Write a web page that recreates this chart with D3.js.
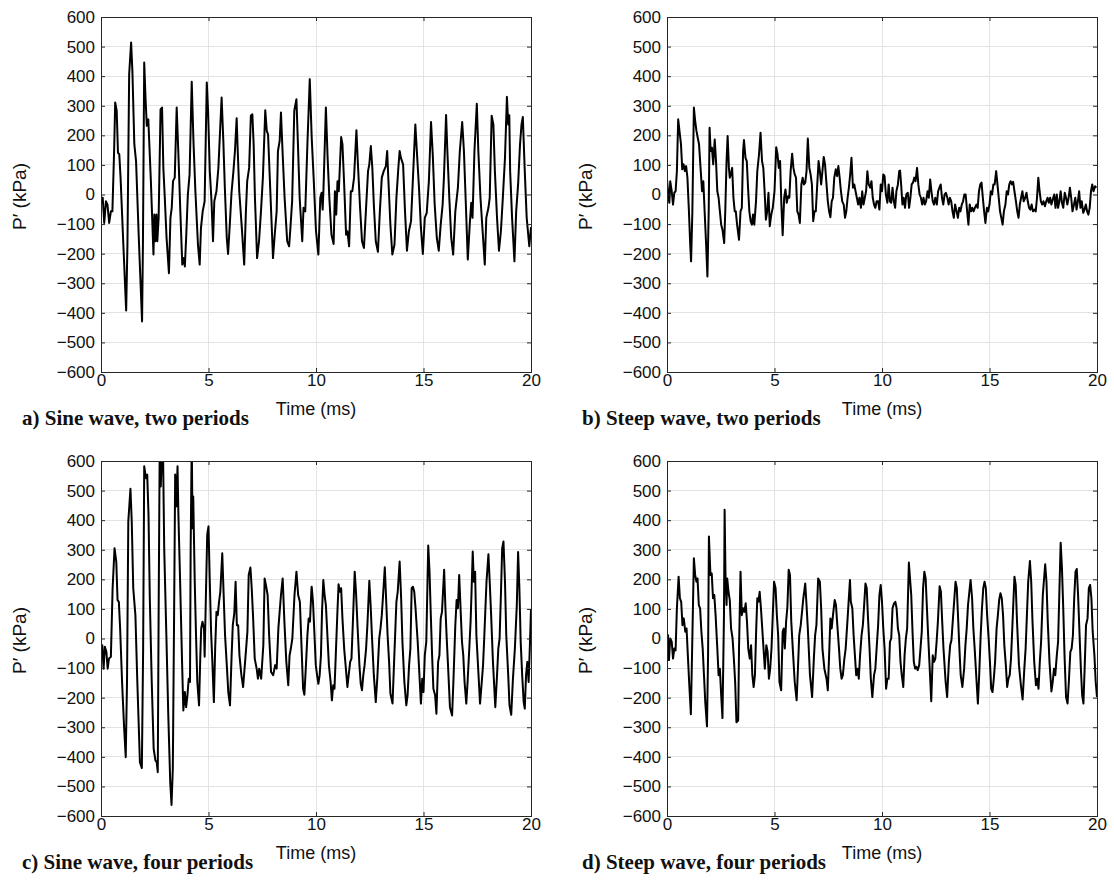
<!DOCTYPE html>
<html>
<head>
<meta charset="utf-8">
<script src="https://cdn.jsdelivr.net/npm/d3@7"></script>
<style>
  html, body { margin: 0; padding: 0; background: #fff; }
  svg { display: block; }
</style>
</head>
<body>
<svg id="chart" width="1114" height="884"></svg>
<script>
// Pressure fluctuation P' (kPa) against time (ms), four forcing cases.
// Each series is a list of [time in ms, pressure in kPa].

const sineTwoPeriods = [
  [0.00,-17],[0.08,-11],[0.15,-96],[0.23,-23],[0.30,-34],[0.38,-96],[0.46,-57],[0.53,-57],[0.61,147],[0.66,311],
  [0.73,283],[0.79,141],[0.85,136],[0.91,57],[1.04,-170],[1.17,-392],[1.23,-170],[1.31,407],[1.40,514],[1.46,418],
  [1.55,170],[1.63,113],[1.77,-170],[1.91,-429],[1.95,-170],[2.01,446],[2.07,328],[2.13,232],[2.20,254],[2.32,45],
  [2.44,-203],[2.48,-68],[2.53,-158],[2.58,-68],[2.62,-158],[2.68,-79],[2.77,288],[2.84,294],[2.90,90],[2.96,0],
  [3.05,-147],[3.16,-266],[3.23,-79],[3.29,-45],[3.35,45],[3.43,57],[3.52,294],[3.60,136],[3.69,-57],[3.78,-237],
  [3.84,-215],[3.90,-243],[3.96,-147],[4.04,0],[4.12,68],[4.22,381],[4.30,181],[4.39,11],[4.51,-170],[4.59,-237],
  [4.65,-113],[4.73,-57],[4.82,-23],[4.92,379],[4.98,283],[5.06,79],[5.14,-23],[5.21,-158],[5.27,-23],[5.37,11],
  [5.46,90],[5.61,328],[5.69,181],[5.76,23],[5.85,-147],[5.91,-201],[5.99,-102],[6.07,6],[6.16,79],[6.23,147],
  [6.31,258],[6.36,147],[6.43,11],[6.55,-113],[6.66,-237],[6.74,-57],[6.80,45],[6.89,90],[6.97,266],[7.04,271],
  [7.10,170],[7.16,-11],[7.26,-215],[7.35,-158],[7.44,-57],[7.53,57],[7.64,285],[7.71,215],[7.77,203],[7.85,57],
  [8.00,-215],[8.08,-136],[8.17,-57],[8.23,147],[8.31,181],[8.37,277],[8.45,136],[8.54,-11],[8.66,-158],[8.75,-175],
  [8.81,-113],[8.89,-23],[8.99,283],[9.09,322],[9.16,170],[9.24,-11],[9.36,-158],[9.42,-45],[9.50,-57],[9.60,170],
  [9.71,390],[9.80,192],[9.89,57],[10.00,-124],[10.11,-203],[10.20,-11],[10.26,6],[10.31,-51],[10.35,23],[10.46,294],
  [10.54,124],[10.62,-11],[10.72,-136],[10.82,-167],[10.88,11],[10.94,-68],[11.00,45],[11.06,11],[11.17,194],[11.23,170],
  [11.31,34],[11.40,-136],[11.46,-124],[11.54,-175],[11.62,11],[11.69,11],[11.77,57],[11.88,217],[11.95,102],[12.05,-45],
  [12.14,-158],[12.23,-181],[12.32,-57],[12.42,79],[12.48,102],[12.55,164],[12.62,90],[12.69,-34],[12.78,-158],[12.88,-194],
  [12.97,-57],[13.06,57],[13.15,79],[13.25,96],[13.31,147],[13.37,45],[13.46,-102],[13.55,-203],[13.65,-170],[13.74,-11],
  [13.83,90],[13.89,147],[13.95,124],[14.05,102],[14.14,-57],[14.23,-190],[14.32,-124],[14.42,-90],[14.51,57],[14.62,237],
  [14.69,147],[14.79,23],[14.88,-113],[14.97,-201],[15.06,-79],[15.15,-62],[15.25,45],[15.35,245],[15.43,136],[15.52,-34],
  [15.62,-147],[15.71,-190],[15.80,-102],[15.89,-34],[15.95,57],[16.05,269],[16.11,147],[16.20,-11],[16.29,-147],[16.38,-203],
  [16.48,-57],[16.60,23],[16.69,147],[16.80,245],[16.88,147],[16.97,-34],[17.06,-220],[17.15,-102],[17.22,-28],[17.28,-79],
  [17.37,147],[17.48,307],[17.55,147],[17.65,-11],[17.77,-147],[17.85,-237],[17.92,-79],[18.02,-45],[18.08,-11],[18.17,266],
  [18.25,237],[18.32,79],[18.42,-79],[18.51,-190],[18.60,-124],[18.69,-11],[18.79,124],[18.88,330],[18.94,237],[18.99,268],
  [19.03,79],[19.12,-79],[19.23,-226],[19.31,-57],[19.40,34],[19.49,170],[19.56,237],[19.62,262],[19.71,79],[19.80,-79],
  [19.92,-175],[20.00,-110]
];

const steepTwoPeriods = [
  [0.00,51],[0.06,0],[0.11,-28],[0.15,45],[0.22,11],[0.28,-34],[0.34,6],[0.40,11],[0.46,79],[0.52,254],
  [0.58,215],[0.65,170],[0.71,85],[0.77,102],[0.83,79],[0.89,96],[0.95,57],[1.02,-57],[1.08,-170],[1.12,-226],
  [1.18,-57],[1.25,294],[1.31,249],[1.37,215],[1.43,192],[1.49,170],[1.55,102],[1.63,11],[1.69,45],[1.75,-57],
  [1.82,-170],[1.88,-277],[1.94,-57],[1.98,226],[2.03,147],[2.09,158],[2.15,102],[2.22,186],[2.28,113],[2.34,11],
  [2.40,-11],[2.46,-57],[2.52,-102],[2.58,-119],[2.66,-164],[2.71,-57],[2.77,113],[2.82,198],[2.88,90],[2.92,57],
  [2.97,68],[3.03,90],[3.09,-11],[3.15,-57],[3.20,-57],[3.26,-102],[3.35,-153],[3.42,-57],[3.48,-45],[3.54,147],
  [3.58,184],[3.65,124],[3.71,113],[3.77,23],[3.83,-57],[3.89,-90],[3.95,-102],[4.00,-68],[4.06,-102],[4.14,-23],
  [4.20,79],[4.28,136],[4.35,209],[4.42,113],[4.48,90],[4.54,11],[4.60,-85],[4.66,-57],[4.72,6],[4.78,-107],
  [4.85,-68],[4.92,-45],[5.00,11],[5.08,160],[5.14,136],[5.20,90],[5.26,113],[5.32,-34],[5.38,-138],[5.45,-11],
  [5.51,17],[5.57,-28],[5.63,-6],[5.69,-11],[5.75,79],[5.82,138],[5.88,90],[5.94,68],[6.00,57],[6.06,-57],
  [6.12,-68],[6.18,-96],[6.25,34],[6.31,57],[6.37,34],[6.43,40],[6.49,79],[6.55,189],[6.62,90],[6.68,68],
  [6.74,34],[6.80,-90],[6.86,-57],[6.92,-57],[6.98,23],[7.05,113],[7.11,79],[7.17,34],[7.23,79],[7.29,127],
  [7.35,102],[7.42,34],[7.48,-23],[7.54,-57],[7.60,-77],[7.66,-23],[7.72,-11],[7.78,57],[7.85,85],[7.91,62],
  [7.97,96],[8.03,57],[8.09,11],[8.15,-23],[8.22,-34],[8.28,-79],[8.34,-57],[8.40,-11],[8.46,23],[8.52,68],
  [8.58,124],[8.65,23],[8.71,34],[8.77,11],[8.83,-11],[8.89,-34],[8.95,-11],[9.02,-45],[9.08,11],[9.14,-34],
  [9.20,-11],[9.26,11],[9.32,79],[9.38,34],[9.45,23],[9.51,45],[9.57,-11],[9.63,-34],[9.69,-45],[9.75,-23],
  [9.82,-23],[9.88,-51],[9.94,34],[10.00,11],[10.06,68],[10.12,62],[10.18,0],[10.25,-28],[10.31,34],[10.37,-23],
  [10.43,-28],[10.49,23],[10.55,-23],[10.61,-45],[10.67,11],[10.74,34],[10.80,79],[10.84,81],[10.89,34],[10.95,-34],
  [11.01,-11],[11.07,-45],[11.13,0],[11.20,6],[11.26,-45],[11.32,-11],[11.38,34],[11.44,40],[11.50,57],[11.56,45],
  [11.63,90],[11.69,34],[11.75,0],[11.81,-11],[11.87,-34],[11.93,-11],[11.99,-34],[12.05,-23],[12.12,11],[12.18,-11],
  [12.24,51],[12.30,11],[12.36,-23],[12.42,-34],[12.48,-11],[12.55,-34],[12.61,11],[12.67,23],[12.73,34],[12.79,-11],
  [12.85,-34],[12.91,0],[12.97,6],[13.04,-11],[13.10,-34],[13.16,-11],[13.22,-23],[13.28,-57],[13.34,-79],[13.40,-34],
  [13.47,-57],[13.53,-79],[13.59,-45],[13.65,-57],[13.71,-34],[13.77,-23],[13.83,0],[13.89,0],[13.96,-57],[14.02,-102],
  [14.08,-34],[14.14,-57],[14.20,-45],[14.26,-57],[14.32,-45],[14.39,-34],[14.45,-45],[14.51,11],[14.57,34],[14.63,40],
  [14.69,-11],[14.75,-57],[14.81,-96],[14.88,-45],[14.94,-57],[15.00,-34],[15.06,11],[15.12,0],[15.18,34],[15.24,34],
  [15.31,79],[15.37,34],[15.43,-11],[15.49,-57],[15.55,-79],[15.61,-102],[15.67,-57],[15.74,-34],[15.80,11],[15.86,0],
  [15.92,34],[15.98,45],[16.04,34],[16.10,43],[16.16,11],[16.23,-23],[16.29,-57],[16.35,-79],[16.41,-34],[16.47,-11],
  [16.53,11],[16.59,-23],[16.66,-11],[16.72,6],[16.78,-23],[16.84,-45],[16.90,-51],[16.96,-34],[17.02,-57],[17.09,-51],
  [17.15,-57],[17.21,-11],[17.27,57],[17.33,11],[17.39,-23],[17.45,-34],[17.51,-23],[17.58,-40],[17.64,-23],[17.70,-11],
  [17.76,-28],[17.82,-11],[17.88,-34],[17.94,-17],[18.01,0],[18.07,-45],[18.13,0],[18.19,-45],[18.25,-23],[18.31,11],
  [18.37,-28],[18.43,-45],[18.50,6],[18.56,-11],[18.62,-34],[18.68,-11],[18.74,23],[18.80,-11],[18.86,-57],[18.93,-34],
  [18.99,-11],[19.05,-51],[19.11,-23],[19.17,11],[19.23,-45],[19.29,-23],[19.36,-62],[19.42,-51],[19.48,-34],[19.54,-57],
  [19.60,-68],[19.66,-45],[19.72,11],[19.78,34],[19.84,11],[19.91,28],[19.97,23]
];

const sineFourPeriods = [
  [0.00,-28],[0.06,-23],[0.12,-102],[0.18,-28],[0.25,-45],[0.31,-102],[0.37,-68],[0.46,-62],[0.54,170],[0.63,305],
  [0.71,260],[0.77,130],[0.83,124],[0.89,34],[0.98,-147],[1.07,-294],[1.15,-401],[1.21,-147],[1.27,396],[1.37,506],
  [1.43,396],[1.50,170],[1.60,79],[1.69,-147],[1.81,-418],[1.90,-438],[1.96,-34],[2.01,582],[2.09,542],[2.15,554],
  [2.21,418],[2.27,136],[2.36,-147],[2.45,-373],[2.53,-412],[2.59,-418],[2.64,-452],[2.68,79],[2.73,640],[2.78,514],
  [2.82,600],[2.88,660],[2.94,305],[3.04,11],[3.13,-260],[3.22,-486],[3.28,-563],[3.34,-441],[3.40,79],[3.45,554],
  [3.50,446],[3.56,582],[3.60,418],[3.68,192],[3.77,-79],[3.83,-243],[3.90,-181],[3.96,-232],[4.02,-192],[4.08,-136],
  [4.14,-147],[4.17,305],[4.22,660],[4.26,373],[4.29,480],[4.36,192],[4.42,11],[4.48,-147],[4.56,-226],[4.62,-57],
  [4.66,34],[4.72,57],[4.79,34],[4.82,-62],[4.88,147],[4.94,350],[5.00,379],[5.06,192],[5.12,23],[5.18,-79],
  [5.25,-215],[5.31,-34],[5.37,90],[5.43,79],[5.49,124],[5.55,158],[5.64,288],[5.71,136],[5.77,11],[5.86,-102],
  [5.92,-181],[6.00,-226],[6.07,-68],[6.13,45],[6.20,85],[6.26,192],[6.32,45],[6.38,45],[6.44,-57],[6.53,-124],
  [6.61,-164],[6.69,-90],[6.75,-34],[6.81,23],[6.87,215],[6.95,240],[7.01,170],[7.07,79],[7.15,-68],[7.24,-102],
  [7.30,-136],[7.36,-102],[7.45,-136],[7.55,-23],[7.61,203],[7.67,181],[7.75,147],[7.82,11],[7.91,-113],[8.01,-124],
  [8.10,-90],[8.17,-102],[8.25,34],[8.37,147],[8.45,203],[8.53,57],[8.62,-79],[8.71,-158],[8.77,-57],[8.83,-34],
  [8.90,0],[9.00,147],[9.09,226],[9.17,147],[9.25,124],[9.33,-34],[9.40,-170],[9.46,-190],[9.54,-79],[9.60,11],
  [9.66,68],[9.72,57],[9.79,170],[9.80,175],[9.86,124],[9.93,11],[9.99,-90],[10.05,-124],[10.11,-153],[10.17,-124],
  [10.23,-57],[10.28,90],[10.34,198],[10.40,147],[10.46,113],[10.53,11],[10.60,-90],[10.68,-147],[10.74,-209],[10.80,-158],
  [10.86,-170],[10.92,-57],[10.99,79],[11.05,183],[11.11,158],[11.17,170],[11.23,68],[11.31,-34],[11.39,-102],[11.46,-164],
  [11.52,-124],[11.59,-79],[11.65,-68],[11.71,45],[11.80,226],[11.86,158],[11.93,45],[12.02,-90],[12.08,-153],[12.14,-175],
  [12.20,-124],[12.26,-90],[12.33,-34],[12.39,45],[12.48,195],[12.54,113],[12.60,11],[12.69,-124],[12.78,-215],[12.85,-136],
  [12.94,0],[13.00,34],[13.06,79],[13.13,158],[13.20,241],[13.26,136],[13.33,11],[13.40,-79],[13.46,-186],[13.56,-220],
  [13.62,-102],[13.68,11],[13.74,124],[13.80,158],[13.89,260],[13.96,136],[14.02,-11],[14.11,-147],[14.20,-226],[14.26,-192],
  [14.33,-90],[14.39,-34],[14.45,170],[14.51,175],[14.57,158],[14.63,102],[14.73,-11],[14.82,-136],[14.88,-220],[14.94,-136],
  [15.00,-181],[15.06,-57],[15.13,-11],[15.22,314],[15.28,226],[15.34,79],[15.40,-57],[15.46,-170],[15.54,-192],[15.60,-254],
  [15.68,-79],[15.74,-57],[15.80,68],[15.86,90],[15.96,232],[16.02,102],[16.08,0],[16.14,-90],[16.23,-232],[16.33,-260],
  [16.39,-147],[16.48,45],[16.54,130],[16.60,102],[16.66,215],[16.73,90],[16.79,-11],[16.85,-57],[16.91,-147],[16.99,-220],
  [17.05,-147],[17.13,-34],[17.19,57],[17.23,147],[17.29,294],[17.34,192],[17.40,226],[17.46,11],[17.56,-124],[17.63,-220],
  [17.71,-147],[17.77,-90],[17.83,11],[17.93,192],[18.02,285],[18.08,192],[18.14,90],[18.23,-79],[18.34,-232],[18.42,-124],
  [18.48,-34],[18.54,0],[18.60,147],[18.66,305],[18.72,328],[18.79,192],[18.85,11],[18.94,-124],[19.00,-226],[19.08,-258],
  [19.16,-136],[19.25,-34],[19.34,113],[19.40,292],[19.46,170],[19.52,-11],[19.59,-124],[19.66,-215],[19.71,-237],[19.77,-124],
  [19.83,-79],[19.89,-147],[19.95,-20],[20.00,100]
];

const steepFourPeriods = [
  [0.00,0],[0.05,11],[0.09,-73],[0.15,0],[0.22,-11],[0.28,-68],[0.34,-34],[0.40,-40],[0.46,102],[0.54,209],
  [0.60,136],[0.66,124],[0.72,45],[0.78,68],[0.85,23],[0.91,34],[0.97,-57],[1.03,-147],[1.11,-256],[1.17,-34],
  [1.25,271],[1.31,215],[1.37,192],[1.42,203],[1.48,113],[1.54,102],[1.60,23],[1.66,-34],[1.72,-124],[1.78,-215],
  [1.86,-297],[1.91,-57],[1.95,345],[2.02,215],[2.08,220],[2.14,136],[2.20,147],[2.26,79],[2.34,-34],[2.40,-124],
  [2.46,-102],[2.52,-192],[2.58,-269],[2.65,79],[2.68,435],[2.72,215],[2.77,113],[2.80,203],[2.86,158],[2.92,130],
  [2.98,34],[3.05,0],[3.11,-68],[3.17,-147],[3.23,-283],[3.31,-277],[3.35,-34],[3.42,226],[3.48,79],[3.54,102],
  [3.60,90],[3.66,119],[3.72,57],[3.78,-34],[3.85,-68],[3.91,-23],[3.97,-124],[4.03,-164],[4.09,-124],[4.15,34],
  [4.20,136],[4.25,124],[4.31,158],[4.37,102],[4.43,34],[4.49,-34],[4.55,-102],[4.62,-23],[4.68,-45],[4.74,-136],
  [4.80,-102],[4.86,-34],[4.92,79],[4.98,192],[5.05,170],[5.11,79],[5.17,11],[5.23,-147],[5.31,-175],[5.38,23],
  [5.43,34],[5.48,-34],[5.54,57],[5.60,107],[5.66,232],[5.72,215],[5.78,57],[5.85,-34],[5.94,-147],[6.03,-209],
  [6.09,-102],[6.15,11],[6.22,45],[6.28,90],[6.34,136],[6.43,186],[6.49,113],[6.55,34],[6.65,-124],[6.75,-198],
  [6.83,-68],[6.89,11],[6.95,45],[7.03,203],[7.11,192],[7.17,102],[7.23,-34],[7.32,-102],[7.42,-136],[7.48,-175],
  [7.54,-57],[7.60,68],[7.66,34],[7.72,79],[7.80,130],[7.86,113],[7.91,57],[8.00,-34],[8.06,-102],[8.12,-136],
  [8.18,-124],[8.25,-68],[8.31,-34],[8.40,68],[8.51,198],[8.55,124],[8.62,102],[8.68,11],[8.74,-57],[8.80,-124],
  [8.86,-102],[8.92,-136],[8.98,-57],[9.05,11],[9.11,45],[9.17,113],[9.23,186],[9.29,170],[9.35,68],[9.42,-34],
  [9.48,-136],[9.55,-198],[9.63,-124],[9.69,-102],[9.75,-34],[9.82,45],[9.88,147],[9.94,181],[10.00,124],[10.06,34],
  [10.12,-34],[10.19,-170],[10.25,-136],[10.31,-136],[10.37,-11],[10.43,0],[10.49,102],[10.56,119],[10.62,124],[10.68,102],
  [10.74,34],[10.80,11],[10.86,-79],[10.92,-124],[10.99,-164],[11.05,-57],[11.11,0],[11.17,34],[11.25,257],[11.29,215],
  [11.36,147],[11.42,23],[11.48,-79],[11.54,-102],[11.60,-96],[11.66,-107],[11.73,-90],[11.79,-34],[11.85,23],[11.91,170],
  [11.97,226],[12.03,203],[12.09,102],[12.16,-11],[12.22,-102],[12.29,-212],[12.36,-57],[12.42,-79],[12.48,-68],[12.54,-11],
  [12.60,57],[12.68,177],[12.74,158],[12.80,57],[12.86,-34],[12.96,-147],[13.03,-198],[13.11,-79],[13.17,-23],[13.23,-6],
  [13.29,57],[13.42,192],[13.48,170],[13.54,68],[13.60,-34],[13.66,-124],[13.74,-164],[13.82,-102],[13.88,-23],[13.94,34],
  [14.00,113],[14.12,198],[14.19,136],[14.25,34],[14.31,-34],[14.40,-147],[14.46,-220],[14.52,-124],[14.59,11],[14.65,102],
  [14.71,170],[14.77,192],[14.83,170],[14.89,79],[14.96,0],[15.02,-79],[15.08,-170],[15.14,-181],[15.20,-136],[15.26,-79],
  [15.33,34],[15.39,79],[15.45,130],[15.51,153],[15.57,136],[15.63,79],[15.69,-23],[15.76,-90],[15.82,-164],[15.88,-136],
  [15.94,-124],[16.00,-68],[16.06,34],[16.16,209],[16.22,181],[16.28,57],[16.37,-90],[16.46,-158],[16.54,-206],[16.62,-102],
  [16.68,-34],[16.74,79],[16.80,192],[16.88,262],[16.94,192],[17.00,57],[17.08,-79],[17.16,-158],[17.22,-136],[17.28,-170],
  [17.34,-79],[17.40,-11],[17.48,147],[17.59,251],[17.65,192],[17.71,57],[17.79,-79],[17.88,-179],[17.94,-147],[18.00,-102],
  [18.06,-124],[18.13,-57],[18.19,-11],[18.25,158],[18.31,324],[18.37,237],[18.43,102],[18.49,-57],[18.56,-198],[18.63,-220],
  [18.69,-147],[18.76,-45],[18.82,-34],[18.88,11],[18.94,136],[19.00,226],[19.06,235],[19.12,147],[19.19,11],[19.25,-102],
  [19.31,-192],[19.37,-220],[19.43,-90],[19.49,45],[19.56,68],[19.62,170],[19.68,181],[19.74,136],[19.80,23],[19.88,-57],
  [19.94,-147],[20.00,-198]
];

const captions = [
  "a) Sine wave, two periods",
  "b) Steep wave, two periods",
  "c) Sine wave, four periods",
  "d) Steep wave, four periods"
];
const xTicks = [0, 5, 10, 15, 20];
const yTicks = [-600, -500, -400, -300, -200, -100, 0, 100, 200, 300, 400, 500, 600];
const timeDomain = [0, 20];
const pressureDomain = [-600, 600];
const xTitle = "Time (ms)";

const series = [sineTwoPeriods, steepTwoPeriods, sineFourPeriods, steepFourPeriods];

// ---- layout ----
const svg = d3.select("#chart");
const plotW = 430, plotH = 355;
const frames = [
  { x: 101, y: 17 },  { x: 667, y: 17 },
  { x: 101, y: 461 }, { x: 667, y: 461 }
];
const captionX = [22, 582, 22, 582];

const axisColor = "#262626";
const gridColor = "#e3e3e3";
const sans = "'Liberation Sans', Arial, Helvetica, sans-serif";
const serif = "'Liberation Serif', 'Times New Roman', Times, serif";

frames.forEach((f, i) => {
  const g = svg.append("g").attr("transform", `translate(${f.x},${f.y})`);
  const x = d3.scaleLinear().domain(timeDomain).range([0, plotW]);
  const y = d3.scaleLinear().domain(pressureDomain).range([plotH, 0]);

  // grid
  g.append("g").selectAll("line").data(yTicks).join("line")
    .attr("x1", 0).attr("x2", plotW)
    .attr("y1", d => y(d)).attr("y2", d => y(d))
    .attr("stroke", gridColor).attr("stroke-width", 1).attr("shape-rendering", "crispEdges");
  g.append("g").selectAll("line").data(xTicks).join("line")
    .attr("y1", 0).attr("y2", plotH)
    .attr("x1", d => x(d)).attr("x2", d => x(d))
    .attr("stroke", gridColor).attr("stroke-width", 1).attr("shape-rendering", "crispEdges");

  // signal, clipped to the plot box
  const clipId = "clip" + i;
  g.append("clipPath").attr("id", clipId)
    .append("rect").attr("x", 0).attr("y", 0).attr("width", plotW).attr("height", plotH);
  const line = d3.line().x(d => x(d[0])).y(d => y(d[1]));
  g.append("path")
    .datum(series[i])
    .attr("clip-path", `url(#${clipId})`)
    .attr("fill", "none")
    .attr("stroke", "#000")
    .attr("stroke-width", 2)
    .attr("stroke-linejoin", "round")
    .attr("d", line);

  // axes with inward ticks on all four sides
  const styleAxis = sel => {
    sel.select(".domain").remove();
    sel.selectAll(".tick line").attr("stroke", axisColor);
    sel.selectAll(".tick text")
      .attr("fill", "#111")
      .style("font-family", sans)
      .style("font-size", "17px");
  };
  g.append("g")
    .call(d3.axisLeft(y).tickValues(yTicks).tickSize(-4).tickPadding(6))
    .call(styleAxis);
  g.append("g").attr("transform", `translate(${plotW},0)`)
    .call(d3.axisRight(y).tickValues(yTicks).tickSize(-4).tickFormat(""))
    .call(styleAxis);
  g.append("g").attr("transform", `translate(0,${plotH})`)
    .call(d3.axisBottom(x).tickValues(xTicks).tickSize(-4).tickPadding(2))
    .call(styleAxis);
  g.append("g")
    .call(d3.axisTop(x).tickValues(xTicks).tickSize(-4).tickFormat(""))
    .call(styleAxis);

  // frame
  g.append("rect")
    .attr("x", 0).attr("y", 0).attr("width", plotW).attr("height", plotH)
    .attr("fill", "none").attr("stroke", axisColor).attr("stroke-width", 1)
    .attr("shape-rendering", "crispEdges");

  // y title: P′ (kPa)
  const yt = g.append("text")
    .attr("transform", `translate(-75,${plotH / 2 + 2}) rotate(-90)`)
    .attr("text-anchor", "middle")
    .style("font-family", sans).style("font-size", "19px").attr("fill", "#111");
  yt.append("tspan").text("P");
  yt.append("tspan").text("′");
  yt.append("tspan").text(" (kPa)");

  // x title
  g.append("text")
    .attr("x", plotW / 2).attr("y", plotH + 43)
    .attr("text-anchor", "middle")
    .style("font-family", sans).style("font-size", "18px").attr("fill", "#111")
    .text(xTitle);

  // caption
  svg.append("text")
    .attr("x", captionX[i]).attr("y", f.y + plotH + 53)
    .style("font-family", serif).style("font-size", "21px").style("font-weight", "bold")
    .attr("fill", "#111")
    .text(captions[i]);
});
</script>
</body>
</html>
